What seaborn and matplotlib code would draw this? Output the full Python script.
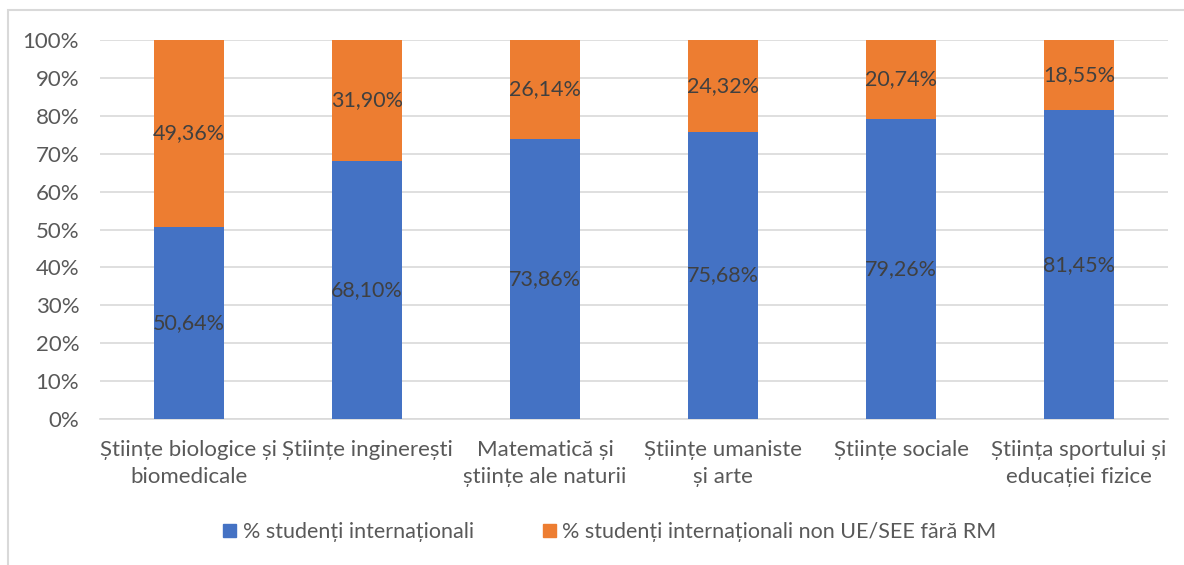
import matplotlib
matplotlib.use("Agg")
import matplotlib.pyplot as plt
import seaborn as sns
import pandas as pd
from matplotlib.patches import Rectangle, Patch
from matplotlib.ticker import FuncFormatter

categories = ["Științe biologice și\nbiomedicale", "Științe inginerești",
              "Matematică și\nștiințe ale naturii", "Științe umaniste\nși arte",
              "Științe sociale", "Știința sportului și\neducației fizice"]
intl = [50.64, 68.10, 73.86, 75.68, 79.26, 81.45]
non_ue = [49.36, 31.90, 26.14, 24.32, 20.74, 18.55]
series_names = ["% studenți internaționali", "% studenți internaționali non UE/SEE fără RM"]

BLUE = "#4472C4"
ORANGE = "#ED7D31"

sns.set_theme(style="white")
plt.rcParams['font.family'] = ['Lato', 'DejaVu Sans']

df = pd.DataFrame({"cat": categories, "intl": intl, "non": non_ue})
df["total"] = df["intl"] + df["non"]

fig = plt.figure(figsize=(11.84, 5.65), dpi=100)
ax = fig.add_axes([100/1184, 1-419/565, 1068/1184, 379/565])

sns.barplot(data=df, x="cat", y="total", color=ORANGE, width=0.39, ax=ax,
            saturation=1, edgecolor="none", zorder=2)
sns.barplot(data=df, x="cat", y="intl", color=BLUE, width=0.39, ax=ax,
            saturation=1, edgecolor="none", zorder=3)

def fmt(v):
    return f"{v:.2f}".replace(".", ",") + "%"

for i, (a, b) in enumerate(zip(intl, non_ue)):
    ax.text(i, a / 2, fmt(a), ha="center", va="center", fontsize=15.5,
            color="#404040", zorder=5)
    ax.text(i, a + b / 2, fmt(b), ha="center", va="center", fontsize=15.5,
            color="#404040", zorder=5)

ax.set_ylim(0, 100)
ax.set_xlim(-0.5, len(categories) - 0.5)
ax.set_yticks(range(0, 101, 10))
ax.yaxis.set_major_formatter(FuncFormatter(lambda v, p: f"{int(v)}%"))
ax.grid(axis="y", color="#D9D9D9", linewidth=1.2, zorder=0)
ax.set_axisbelow(True)
for s in ["top", "right", "left"]:
    ax.spines[s].set_visible(False)
ax.spines["bottom"].set_color("#D9D9D9")
ax.spines["bottom"].set_linewidth(1.2)
ax.set_xlabel("")
ax.set_ylabel("")
ax.tick_params(axis="both", length=0, labelsize=16, colors="#595959")
ax.tick_params(axis="x", pad=15)
ax.tick_params(axis="y", pad=15)
for lbl in ax.get_xticklabels():
    lbl.set_linespacing(1.45)

handles = [Patch(color=BLUE), Patch(color=ORANGE)]
fig.legend(handles, series_names, loc="center", bbox_to_anchor=(610/1184, 1-532/565),
           ncol=2, frameon=False, fontsize=15.5, handlelength=0.6, handleheight=0.6,
           columnspacing=3.2, handletextpad=0.3, labelcolor="#595959")

fig.patches.append(Rectangle((8/1184, -0.05), 1.1, 1 - 10/565 + 0.05,
                             transform=fig.transFigure, fill=False,
                             edgecolor="#D9D9D9", linewidth=1.5))

fig.savefig("out.png", dpi=100)
